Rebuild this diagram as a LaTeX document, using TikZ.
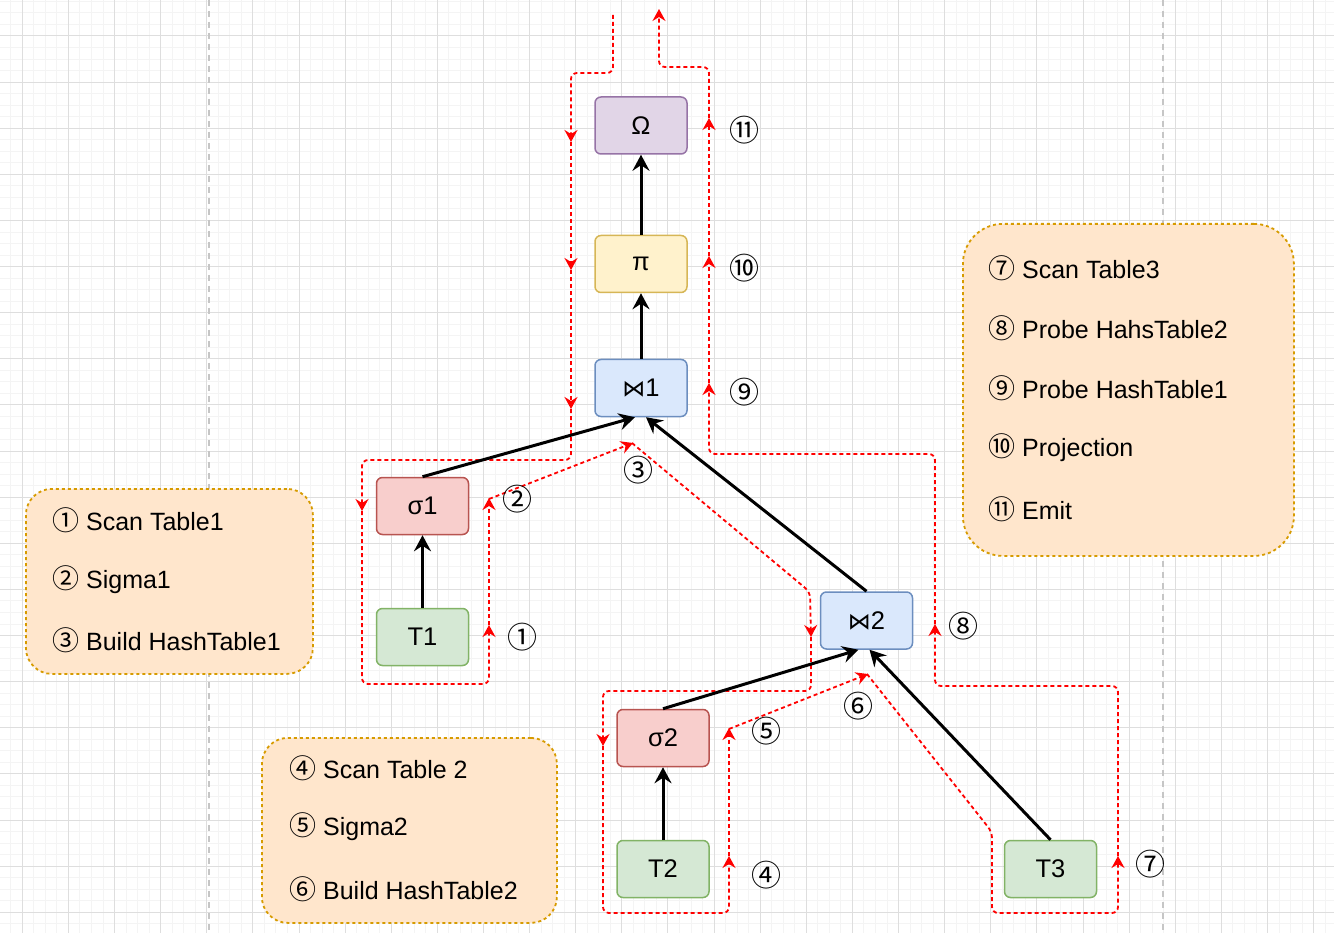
\documentclass[tikz,border=0pt]{standalone}
\usepackage{fontspec}
\setmainfont{Liberation Sans}
\newfontfamily\cjkf{Noto Sans CJK SC}
\newfontfamily\djv{DejaVu Sans}
\usetikzlibrary{arrows.meta}
\definecolor{omfill}{HTML}{E1D5E7}\definecolor{omline}{HTML}{9673A6}
\definecolor{pifill}{HTML}{FFF2CC}\definecolor{piline}{HTML}{D6B656}
\definecolor{jfill}{HTML}{DAE8FC}\definecolor{jline}{HTML}{6C8EBF}
\definecolor{sfill}{HTML}{F8CECC}\definecolor{sline}{HTML}{B85450}
\definecolor{tfill}{HTML}{D5E8D4}\definecolor{tline}{HTML}{82B366}
\definecolor{lfill}{HTML}{FFE6CC}\definecolor{lline}{HTML}{D79B00}
\definecolor{flowred}{HTML}{FF0000}
\newcommand{\cn}[1]{{\cjkf\fontsize{27}{28}\selectfont #1}}
\begin{document}
\begin{tikzpicture}[x=1pt,y=-1pt,
  opbox/.style={draw, rounded corners=6pt, line width=1.5pt, minimum width=92pt,
    minimum height=57pt, inner sep=0pt, font=\fontsize{25.5}{28}\selectfont},
  blk/.style={line width=3pt, black, -{Stealth[length=16pt,width=17pt,inset=5.5pt]}},
  redpath/.style={flowred, line width=1.8pt, dash pattern=on 4pt off 3pt, rounded corners=6pt,
    -{Stealth[length=12pt,width=13pt,inset=4pt]}},
  num/.style={font=\cjkf\fontsize{30}{32}\selectfont, inner sep=0pt},
  legend/.style={draw=lline, fill=lfill, line width=1.8pt, dash pattern=on 3pt off 3pt,
    rounded corners=26pt, anchor=north west, inner sep=0pt},
  legtext/.style={anchor=west, inner sep=0pt, font=\fontsize{25}{28}\selectfont},
  minorgrid/.style={gray!9, line width=1pt},
  majorgrid/.style={gray!26, line width=1pt}
]
\useasboundingbox (0,0) rectangle (1334,933);
\fill[white] (0,0) rectangle (1334,933);
% grid
\foreach \i in {0,...,116} \draw[minorgrid] ({-0.76+\i*11.53},0) -- ++(0,933);
\foreach \i in {0,...,81} \draw[minorgrid] (0,{1.41+\i*11.53}) -- ++(1334,0);
\foreach \i in {0,...,28} \draw[majorgrid] ({22.3+\i*46.12},0) -- ++(0,933);
\foreach \i in {-1,...,19} \draw[majorgrid] (0,{36+\i*46.12}) -- ++(1334,0);
% page separators
\draw[gray!45, line width=2pt, dash pattern=on 6pt off 5pt] (209,0) -- (209,933);
\draw[gray!45, line width=2pt, dash pattern=on 6pt off 5pt] (1163,0) -- (1163,933);

% legends
\node[legend, minimum width=287pt, minimum height=185pt] (L1) at (25,488) {};
\node[legtext] (L1a) at (52,520) {\cn{①} Scan Table1};
\node[legtext] (L1b) at (52,580) {\cn{②} Sigma1};
\node[legtext] (L1c) at (52,640) {\cn{③} Build HashTable1};

\node[legend, minimum width=295pt, minimum height=185pt] (L2) at (261,737) {};
\node[legtext] (L2a) at (289,768) {\cn{④} Scan Table 2};
\node[legtext] (L2b) at (289,827) {\cn{⑤} Sigma2};
\node[legtext] (L2c) at (289,889) {\cn{⑥} Build HashTable2};

\node[legend, minimum width=331pt, minimum height=332pt, rounded corners=40pt] (L3) at (962,223) {};
\node[legtext] (L3a) at (988,268) {\cn{⑦} Scan Table3};
\node[legtext] (L3b) at (988,328) {\cn{⑧} Probe HahsTable2};
\node[legtext] (L3c) at (988,388) {\cn{⑨} Probe HashTable1};
\node[legtext] (L3d) at (988,448) {\cn{⑩} Projection};
\node[legtext] (L3e) at (988,509) {\cn{⑪} Emit};

% red execution path
\draw[redpath] (613,15) -- (613,73) -- (571,73) -- (571,142);
\draw[redpath] (571,142) -- (571,270);
\draw[redpath] (571,270) -- (571,409);
\draw[redpath] (571,409) -- (571,460) -- (362,460) -- (362,511);
\draw[redpath] (362,511) -- (362,684) -- (489,684) -- (489,625);
\draw[redpath] (489,625) -- (489,498);
\draw[redpath, rounded corners=0pt] (489,499) -- (633,443);
\draw[redpath] (632,443) -- (810,592) -- (811,637);
\draw[redpath] (811,637) -- (811,691) -- (603,691) -- (603,746);
\draw[redpath] (603,746) -- (603,913) -- (729,913) -- (729,856);
\draw[redpath] (729,856) -- (729,728);
\draw[redpath, rounded corners=0pt] (729,729) -- (868,674);
\draw[redpath] (867,674) -- (992,832) -- (992,913) -- (1118,913) -- (1118,856);
\draw[redpath] (1118,856) -- (1118,686) -- (935,686) -- (935,624);
\draw[redpath] (935,624) -- (935,454) -- (709,454) -- (709,383);
\draw[redpath] (709,383) -- (709,256);
\draw[redpath] (709,256) -- (709,118);
\draw[redpath] (709,118) -- (709,67) -- (659,67) -- (659,9);

% operator nodes
\node[opbox, fill=omfill, draw=omline] (om) at (641,125.5) {Ω};
\node[opbox, fill=pifill, draw=piline] (pi) at (641,264) {π};
\node[opbox, fill=jfill, draw=jline] (j1) at (641,388) {{\djv\fontsize{23}{28}\selectfont ⋈}1};
\node[opbox, fill=sfill, draw=sline] (s1) at (422.5,506) {σ1};
\node[opbox, fill=tfill, draw=tline] (t1) at (422.5,637) {T1};
\node[opbox, fill=jfill, draw=jline] (j2) at (866.5,620.5) {{\djv\fontsize{23}{28}\selectfont ⋈}2};
\node[opbox, fill=sfill, draw=sline] (s2) at (663,738) {σ2};
\node[opbox, fill=tfill, draw=tline] (t2) at (663,869) {T2};
\node[opbox, fill=tfill, draw=tline] (t3) at (1050.5,869) {T3};

% data-flow arrows
\draw[blk] (pi.north) -- (om.south);
\draw[blk] (j1.north) -- (pi.south);
\draw[blk] (t1.north) -- (s1.south);
\draw[blk] (s1.north) -- ([xshift=-6pt]j1.south);
\draw[blk] (j2.north) -- ([xshift=5pt]j1.south);
\draw[blk] (t2.north) -- (s2.south);
\draw[blk] (s2.north) -- ([xshift=-8pt]j2.south);
\draw[blk] (t3.north) -- ([xshift=3pt]j2.south);

% step numbers
\node[num] (n1) at (522,637) {①};
\node[num] (n2) at (517,499) {②};
\node[num] (n3) at (638,470) {③};
\node[num] (n4) at (766,875) {④};
\node[num] (n5) at (766,731) {⑤};
\node[num] (n6) at (858,706) {⑥};
\node[num] (n7) at (1150,864) {⑦};
\node[num] (n8) at (963,626) {⑧};
\node[num] (n9) at (744,392) {⑨};
\node[num] (n10) at (744,268) {⑩};
\node[num] (n11) at (744,130) {⑪};
\end{tikzpicture}
\end{document}
